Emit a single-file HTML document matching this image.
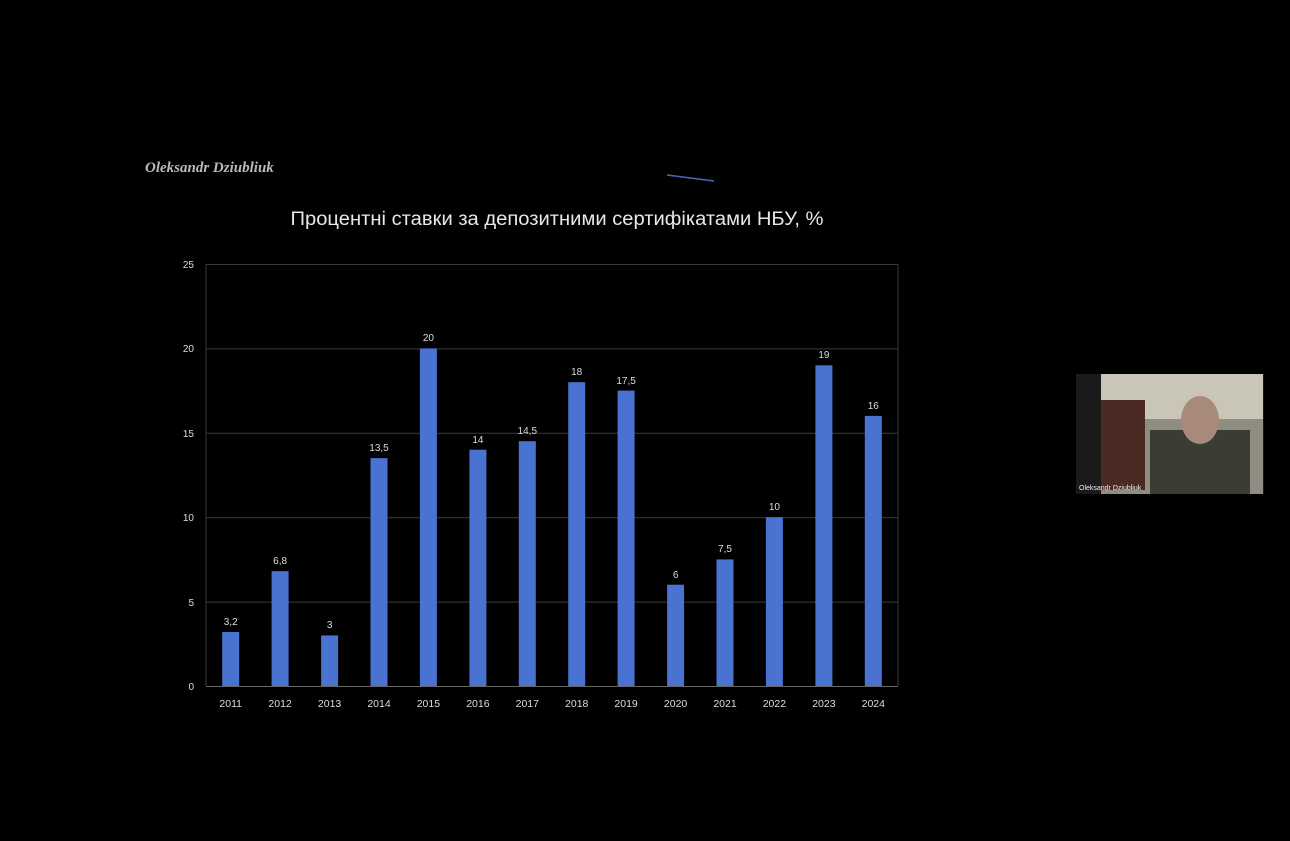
<!DOCTYPE html><html><head><style>body{margin:0;background:#000;}svg{display:block}</style></head><body>
<svg width="1290" height="841" xmlns="http://www.w3.org/2000/svg" font-family="Liberation Sans, sans-serif">
<rect width="1290" height="841" fill="#000"/>
<text x="145" y="172" fill="#bbb" font-family="Liberation Serif, serif" font-style="italic" font-weight="bold" font-size="15">Oleksandr Dziubliuk</text>
<line x1="667" y1="175" x2="714" y2="181" stroke="#4a6ab8" stroke-width="1.5"/>
<text x="557" y="225" fill="#e8e8e8" font-size="19" text-anchor="middle" textLength="533" lengthAdjust="spacingAndGlyphs">Процентні ставки за депозитними сертифікатами НБУ, %</text>
<g stroke="#3a3a3a" stroke-width="1">
<line x1="206" y1="264.5" x2="898" y2="264.5"/><line x1="206" y1="348.9" x2="898" y2="348.9"/><line x1="206" y1="433.3" x2="898" y2="433.3"/><line x1="206" y1="517.7" x2="898" y2="517.7"/><line x1="206" y1="602.1" x2="898" y2="602.1"/>
<line x1="206" y1="264" x2="206" y2="686"/><line x1="898" y1="264" x2="898" y2="686"/>
</g>
<line x1="206" y1="686.5" x2="898" y2="686.5" stroke="#666"/>
<g fill="#ddd" font-size="10" text-anchor="end">
<text x="194" y="268">25</text><text x="194" y="352">20</text><text x="194" y="437">15</text><text x="194" y="521">10</text><text x="194" y="606">5</text><text x="194" y="690">0</text>
</g>
<g fill="#4a72d0">
<rect x="222.2" y="632.0" width="17" height="54.0"/>
<rect x="271.6" y="571.2" width="17" height="114.8"/>
<rect x="321.1" y="635.4" width="17" height="50.6"/>
<rect x="370.5" y="458.1" width="17" height="227.9"/>
<rect x="419.9" y="348.4" width="17" height="337.6"/>
<rect x="469.4" y="449.7" width="17" height="236.3"/>
<rect x="518.8" y="441.2" width="17" height="244.8"/>
<rect x="568.2" y="382.2" width="17" height="303.8"/>
<rect x="617.6" y="390.6" width="17" height="295.4"/>
<rect x="667.1" y="584.7" width="17" height="101.3"/>
<rect x="716.5" y="559.4" width="17" height="126.6"/>
<rect x="765.9" y="517.2" width="17" height="168.8"/>
<rect x="815.4" y="365.3" width="17" height="320.7"/>
<rect x="864.8" y="415.9" width="17" height="270.1"/>
</g>
<g fill="#ddd" font-size="10" text-anchor="middle">
<text x="230.7" y="625">3,2</text>
<text x="280.1" y="564">6,8</text>
<text x="329.6" y="628">3</text>
<text x="379.0" y="451">13,5</text>
<text x="428.4" y="341">20</text>
<text x="477.9" y="443">14</text>
<text x="527.3" y="434">14,5</text>
<text x="576.7" y="375">18</text>
<text x="626.1" y="384">17,5</text>
<text x="675.6" y="578">6</text>
<text x="725.0" y="552">7,5</text>
<text x="774.4" y="510">10</text>
<text x="823.9" y="358">19</text>
<text x="873.3" y="409">16</text>
</g>
<g fill="#ddd" font-size="10.5" text-anchor="middle">
<text x="230.7" y="707">2011</text><text x="280.1" y="707">2012</text><text x="329.6" y="707">2013</text><text x="379.0" y="707">2014</text><text x="428.4" y="707">2015</text><text x="477.9" y="707">2016</text><text x="527.3" y="707">2017</text><text x="576.7" y="707">2018</text><text x="626.1" y="707">2019</text><text x="675.6" y="707">2020</text><text x="725.0" y="707">2021</text><text x="774.4" y="707">2022</text><text x="823.9" y="707">2023</text><text x="873.3" y="707">2024</text>
</g>
<rect x="1076" y="374" width="188" height="120" fill="#1a1a1a"/>
<rect x="1101" y="374" width="162" height="120" fill="#8f8c82"/>
<rect x="1101" y="374" width="162" height="45" fill="#c9c6b8"/>
<rect x="1101" y="400" width="44" height="90" fill="#4a2a22"/>
<rect x="1150" y="430" width="100" height="64" fill="#3a3d34"/>
<ellipse cx="1200" cy="420" rx="19" ry="24" fill="#a88a7a"/>
<text x="1079" y="490" fill="#eee" font-size="7">Oleksandr Dziubliuk</text>
</svg></body></html>
